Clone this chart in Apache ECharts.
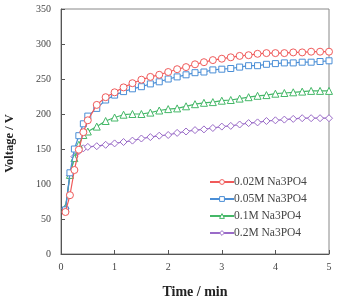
<!DOCTYPE html>
<html>
<head>
<meta charset="utf-8">
<script src="https://cdn.jsdelivr.net/npm/echarts@6/dist/echarts.min.js"></script>
<style>
  html, body { margin: 0; padding: 0; background: #fff; }
  #chart { width: 338px; height: 297px; }
</style>
</head>
<body>
<div id="chart"></div>
<script>
// time points (min)
const times = [0.083, 0.167, 0.25, 0.333, 0.417, 0.5,
  0.667, 0.833, 1.0, 1.167, 1.333, 1.5, 1.667, 1.833,
  2.0, 2.167, 2.333, 2.5, 2.667, 2.833, 3.0, 3.167, 3.333, 3.5,
  3.667, 3.833, 4.0, 4.167, 4.333, 4.5, 4.667, 4.833, 5.0];

const v002 = [60, 84, 120, 149, 174, 191, 213, 224, 231, 238, 244, 249, 253, 256,
  260, 264, 267, 271, 274, 277, 279, 281, 283, 284, 286, 287, 287, 287, 288, 288, 289, 289, 289];
const v005 = [63, 116, 150, 169, 186, 197, 208, 220, 227, 232, 236, 239, 243, 246,
  250, 253, 256, 259, 260, 263, 264, 265, 267, 269, 269, 271, 272, 273, 273, 274, 274, 275, 276];
const v01 = [66, 113, 137, 156, 170, 175, 182, 190, 195, 199, 200, 200, 202, 205,
  207, 208, 211, 214, 216, 217, 219, 220, 222, 224, 226, 227, 229, 230, 231, 232, 233, 233, 233];
const v02 = [65, 112, 139, 147, 151, 153, 154, 156, 158, 160, 162, 165, 167, 169,
  170, 173, 175, 177, 178, 180, 182, 183, 185, 187, 188, 190, 191, 192, 193, 194, 194, 194, 194];

const seriesNames = ["0.02M Na3PO4", "0.05M Na3PO4", "0.1M Na3PO4", "0.2M Na3PO4"];
const seriesValues = [v002, v005, v01, v02];
const seriesColors = ["#f05a5a", "#4a8ed6", "#45b868", "#9a6bc8"];
const seriesSymbols = ["circle", "rect", "triangle", "diamond"];

const font = "'Liberation Serif', 'DejaVu Serif', serif";

const chart = echarts.init(document.getElementById("chart"));

chart.setOption({
  animation: false,
  backgroundColor: "#fff",
  grid: {
    left: 61,
    right: 9,
    top: 9,
    bottom: 43,
    containLabel: false,
    outerBoundsMode: "none",
    show: true,
    borderColor: "#888",
    borderWidth: 1,
  },
  xAxis: {
    type: "value",
    min: 0,
    max: 5,
    interval: 1,
    name: "Time / min",
    nameLocation: "middle",
    nameGap: 31,
    nameTextStyle: { fontFamily: font, fontWeight: "bold", fontSize: 14, color: "#222" },
    axisLine: { lineStyle: { color: "#555" } },
    axisTick: { inside: true, length: 4, lineStyle: { color: "#555" } },
    axisLabel: { fontFamily: font, fontSize: 10, color: "#444", margin: 8 },
    splitLine: { show: false },
  },
  yAxis: {
    type: "value",
    min: 0,
    max: 350,
    interval: 50,
    name: "Voltage / V",
    nameLocation: "middle",
    nameGap: 45,
    nameTextStyle: {
      fontFamily: font, fontWeight: "bold", fontSize: 12.5, color: "#222",
      padding: [0, 24, 0, 0],
    },
    axisLine: { show: true, lineStyle: { color: "#555" } },
    axisTick: { show: true, inside: true, length: 4, lineStyle: { color: "#555" } },
    axisLabel: { fontFamily: font, fontSize: 10, color: "#444", margin: 10 },
    splitLine: { show: false },
  },
  legend: {
    orient: "vertical",
    left: 204,
    top: 171,
    itemWidth: 24,
    itemHeight: 6,
    itemGap: 5,
    itemStyle: { color: "#fff", borderWidth: 1 },
    textStyle: { fontFamily: font, fontSize: 11.5, color: "#444", padding: [0, 0, 0, -5] },
    data: seriesNames,
  },
  series: seriesNames.map((name, i) => ({
    type: "line",
    name,
    data: times.map((t, j) => [t, seriesValues[i][j]]),
    symbol: seriesSymbols[i],
    symbolSize: seriesSymbols[i] === "rect" ? 6 : 7,
    showAllSymbol: true,
    color: seriesColors[i],
    lineStyle: { width: 1.2, color: seriesColors[i] },
    itemStyle: { color: "#fff", borderColor: seriesColors[i], borderWidth: 1 },
    z: 10 - i,
  })),
});
</script>
</body>
</html>
